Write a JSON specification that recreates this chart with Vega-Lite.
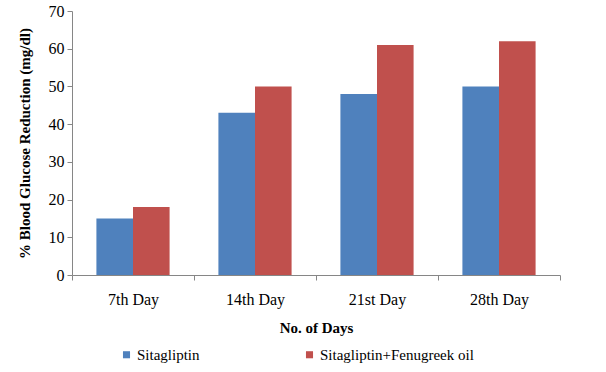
{
  "$schema": "https://vega.github.io/schema/vega-lite/v6.json",
  "width": 488,
  "height": 264,
  "autosize": {"type": "none"},
  "padding": {"left": 72, "top": 11, "right": 46, "bottom": 97},
  "background": "white",
  "config": {
    "view": {"stroke": null},
    "font": "Liberation Serif",
    "axis": {"labelFont": "Liberation Serif", "titleFont": "Liberation Serif", "labelColor": "black", "titleColor": "black", "domainColor": "#868686", "tickColor": "#868686", "grid": false},
    "legend": {"labelFont": "Liberation Serif"}
  },
  "data": {
    "values": [
      {"day": "7th Day", "series": "Sitagliptin", "value": 15},
      {"day": "7th Day", "series": "Sitagliptin+Fenugreek oil", "value": 18},
      {"day": "14th Day", "series": "Sitagliptin", "value": 43},
      {"day": "14th Day", "series": "Sitagliptin+Fenugreek oil", "value": 50},
      {"day": "21st Day", "series": "Sitagliptin", "value": 48},
      {"day": "21st Day", "series": "Sitagliptin+Fenugreek oil", "value": 61},
      {"day": "28th Day", "series": "Sitagliptin", "value": 50},
      {"day": "28th Day", "series": "Sitagliptin+Fenugreek oil", "value": 62}
    ]
  },
  "mark": {"type": "bar"},
  "encoding": {
    "x": {
      "field": "day", "type": "nominal", "sort": ["7th Day", "14th Day", "21st Day", "28th Day"],
      "scale": {"paddingInner": 0, "paddingOuter": 0},
      "axis": {"title": "No. of Days", "titleFontSize": 15, "titleFontWeight": "bold", "labelFontSize": 16, "labelAngle": 0, "tickBand": "extent", "ticks": true, "tickSize": 5, "labelPadding": 11, "titlePadding": 13}
    },
    "xOffset": {
      "field": "series", "type": "nominal", "sort": ["Sitagliptin", "Sitagliptin+Fenugreek oil"],
      "scale": {"paddingInner": 0, "paddingOuter": 0.667}
    },
    "y": {
      "field": "value", "type": "quantitative",
      "scale": {"domain": [0, 70], "nice": false},
      "axis": {"title": "% Blood Glucose Reduction (mg/dl)", "titleFontSize": 15, "titleFontWeight": "bold", "labelFontSize": 16, "values": [0, 10, 20, 30, 40, 50, 60, 70], "tickSize": 5, "labelPadding": 3, "titlePadding": 16}
    },
    "color": {
      "field": "series", "type": "nominal",
      "scale": {"domain": ["Sitagliptin", "Sitagliptin+Fenugreek oil"], "range": ["#4F81BD", "#C0504D"]},
      "legend": {"title": null, "orient": "none", "direction": "horizontal", "legendX": 47, "legendY": 336, "columns": 2, "gridAlign": "all", "columnPadding": 11, "symbolType": "square", "symbolSize": 50, "labelFontSize": 15, "labelLimit": 300, "symbolStrokeWidth": 0, "labelOffset": 3}
    }
  }
}
